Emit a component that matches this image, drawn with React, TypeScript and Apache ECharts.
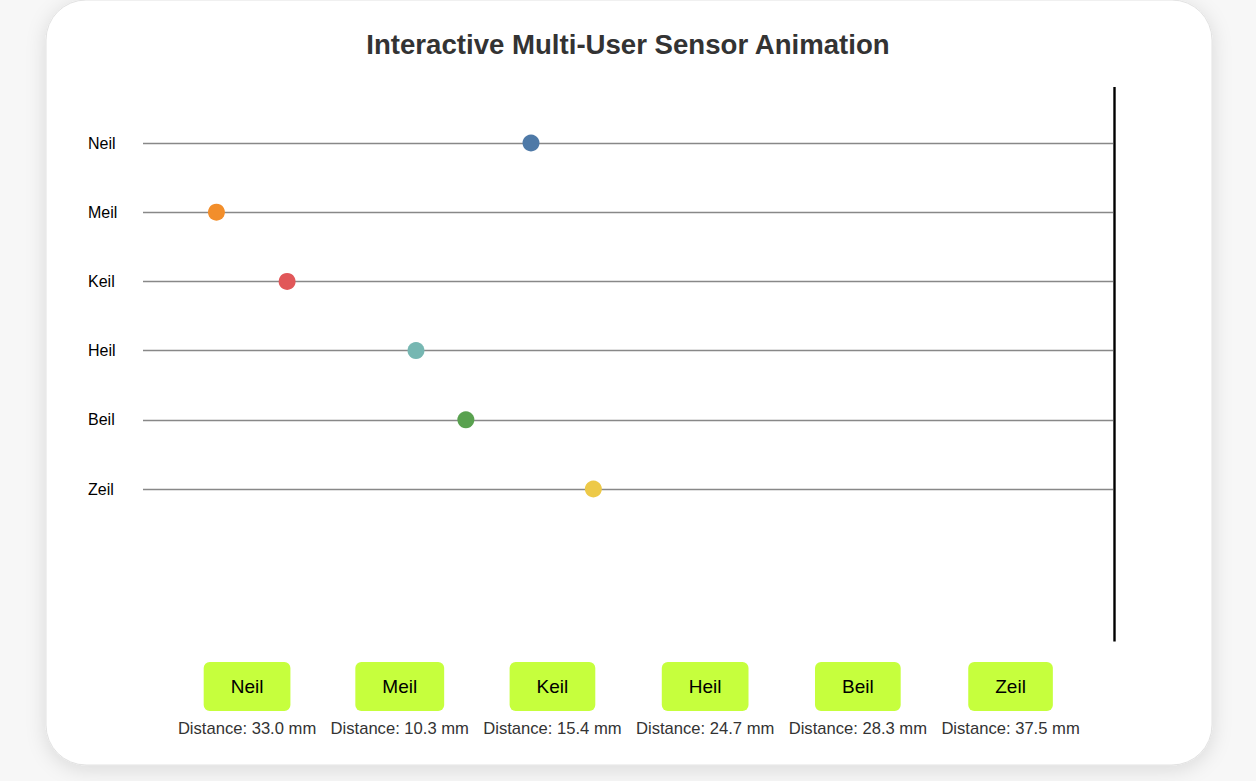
import React, { useEffect, useRef } from "react";
import * as echarts from "echarts";

const users = ["Neil", "Meil", "Keil", "Heil", "Beil", "Zeil"];
const distances = [33.0, 10.3, 15.4, 24.7, 28.3, 37.5];
const dotColors = ["#4e79a7", "#f28e2b", "#e15759", "#76b7b2", "#59a14f", "#edc948"];
const titleText = "Interactive Multi-User Sensor Animation";
const xMin = 5;
const xMax = 75;

const FONT = '"Liberation Sans", Arial, Helvetica, sans-serif';

export default function App() {
  const ref = useRef<HTMLDivElement>(null);

  useEffect(() => {
    if (!ref.current) return;
    const chart = echarts.init(ref.current, null, { renderer: "svg" });

    const centerX = 628.8;
    const step = 152.7;
    const buttons: any[] = [];
    users.forEach((u, i) => {
      const cx = centerX + (i - (users.length - 1) / 2) * step;
      buttons.push({
        type: "text",
        z: 10,
        style: {
          text: u,
          x: cx,
          y: 686.5,
          align: "center",
          verticalAlign: "middle",
          fontSize: 19,
          fontFamily: FONT,
          fill: "#000",
          backgroundColor: "#c6ff3d",
          borderRadius: 6,
          padding: [14, 27],
          lineHeight: 21,
        },
      });
      buttons.push({
        type: "text",
        z: 10,
        style: {
          text: `Distance: ${distances[i].toFixed(1)} mm`,
          x: cx,
          y: 728,
          align: "center",
          verticalAlign: "middle",
          fontSize: 16.6,
          fontFamily: FONT,
          fill: "#333",
        },
      });
    });

    chart.setOption({
      animation: false,
      backgroundColor: "#f7f7f7",
      title: {
        text: titleText,
        left: "center",
        top: 25,
        textStyle: { fontSize: 27.6, fontWeight: "bold", color: "#333", fontFamily: FONT },
      },
      grid: { left: 143, right: 143, top: 143, bottom: 292, containLabel: false },
      xAxis: {
        type: "value",
        min: xMin,
        max: xMax,
        show: false,
      },
      yAxis: {
        type: "category",
        data: users,
        inverse: true,
        boundaryGap: false,
        axisLine: { show: false },
        axisTick: { show: false },
        axisLabel: {
          align: "left",
          margin: 55,
          fontSize: 16,
          color: "#000",
          fontFamily: FONT,
        },
        splitLine: { show: true, lineStyle: { color: "#888", width: 1.3 } },
      },
      series: [
        {
          type: "scatter",
          symbolSize: 17,
          data: users.map((u, i) => ({
            value: [distances[i], u],
            itemStyle: { color: dotColors[i], opacity: 1 },
          })),
        },
      ],
      graphic: [
        {
          type: "rect",
          z: -100,
          shape: { x: 46, y: 0, width: 1166, height: 765, r: 40 },
          style: {
            fill: "#fff",
            stroke: "#e2e2e2",
            lineWidth: 1,
            shadowBlur: 20,
            shadowColor: "rgba(0,0,0,0.12)",
            shadowOffsetY: 4,
          },
        },
        {
          type: "line",
          z: 5,
          shape: { x1: 1114.5, y1: 87, x2: 1114.5, y2: 641.5 },
          style: { stroke: "#000", lineWidth: 2.4 },
        },
        ...buttons,
      ],
    });

    return () => chart.dispose();
  }, []);

  return (
    <div
      ref={ref}
      style={{ position: "absolute", left: 0, top: 0, width: 1256, height: 781 }}
    />
  );
}
